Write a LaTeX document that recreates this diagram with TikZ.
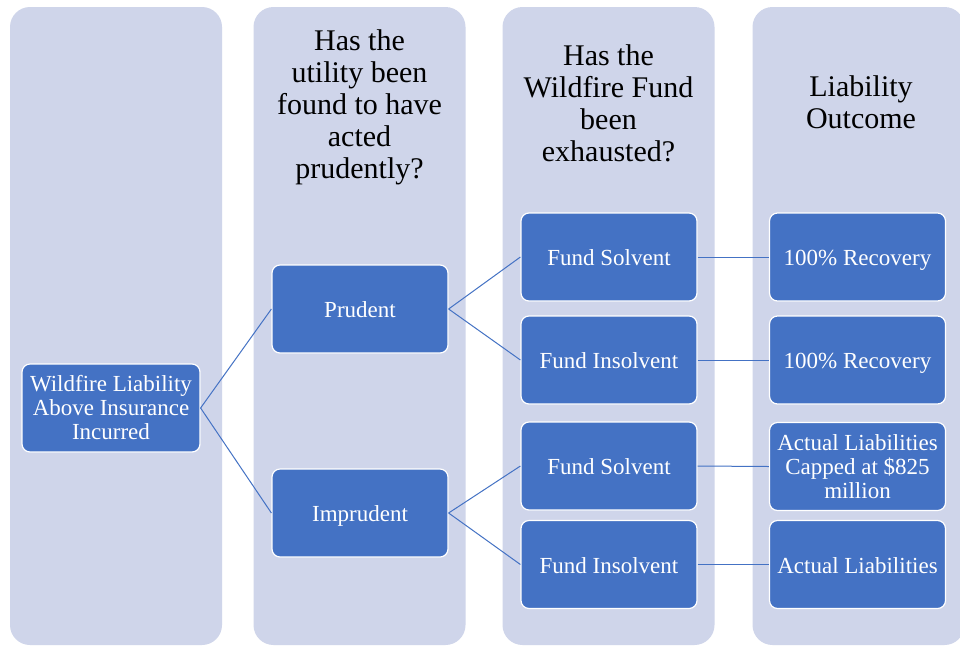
\documentclass[tikz,border=0pt]{standalone}
\usepackage{fontspec}
\setmainfont{Liberation Serif}
\definecolor{colbg}{HTML}{CFD5EA}
\definecolor{boxblue}{HTML}{4472C4}
\definecolor{linkblue}{HTML}{4472C4}
\tikzset{
  colpanel/.style={rectangle, rounded corners=20pt, fill=colbg, draw=none,
    minimum width=212pt, minimum height=638pt, inner sep=0pt},
  head/.style={align=center, text=black, inner sep=0pt,
    font=\fontsize{30}{32}\selectfont},
  stepbox/.style={rectangle, rounded corners=8pt, fill=boxblue, draw=white,
    line width=1.2pt, minimum width=176pt, minimum height=88pt, inner sep=0pt,
    text=white, align=center, font=\fontsize{23}{24}\selectfont},
  oneline/.style={text height=17pt, text depth=0pt},
  link/.style={draw=linkblue, line width=1pt}
}
\begin{document}
\begin{tikzpicture}[x=1pt,y=-1pt]
\useasboundingbox (0,0) rectangle (960,646);
\clip (0,0) rectangle (960,646);
\fill[white] (0,0) rectangle (960,646);
% column panels
\node[colpanel] (c1) at (116,326) {};
\node[colpanel] (c2) at (359.5,326) {};
\node[colpanel] (c3) at (608.5,326) {};
\node[colpanel] (c4) at (858.5,326) {};
% headers
\node[head] (h2) at (359.5,107) {Has the\\utility been\\found to have\\acted\\prudently?};
\node[head] (h3) at (608.5,103) {Has the\\Wildfire Fund\\been\\exhausted?};
\node[head] (h4) at (861,102) {Liability\\Outcome};
% boxes
\node[stepbox, minimum width=178pt] (w) at (111,408) {Wildfire Liability\\Above Insurance\\Incurred};
\node[stepbox, oneline] (p) at (360,309) {Prudent};
\node[stepbox, oneline] (ip) at (360,513) {Imprudent};
\node[stepbox, oneline] (fs1) at (609,257) {Fund Solvent};
\node[stepbox, oneline] (fi1) at (609,360) {Fund Insolvent};
\node[stepbox, oneline] (fs2) at (609,466) {Fund Solvent};
\node[stepbox, oneline] (fi2) at (609,564.5) {Fund Insolvent};
\node[stepbox, oneline] (r1) at (857.5,257) {100\% Recovery};
\node[stepbox, oneline] (r2) at (857.5,360) {100\% Recovery};
\node[stepbox] (r3) at (857.5,466.5) {Actual Liabilities\\Capped at \$825\\million};
\node[stepbox, oneline] (r4) at (857.5,564.5) {Actual Liabilities};
% connectors
\draw[link] (w.east) -- (p.west);
\draw[link] (w.east) -- (ip.west);
\draw[link] (p.east) -- (fs1.west);
\draw[link] (p.east) -- (fi1.west);
\draw[link] (ip.east) -- (fs2.west);
\draw[link] (ip.east) -- (fi2.west);
\draw[link] (fs1.east) -- (r1.west);
\draw[link] (fi1.east) -- (r2.west);
\draw[link] (fs2.east) -- (r3.west);
\draw[link] (fi2.east) -- (r4.west);
\end{tikzpicture}
\end{document}
